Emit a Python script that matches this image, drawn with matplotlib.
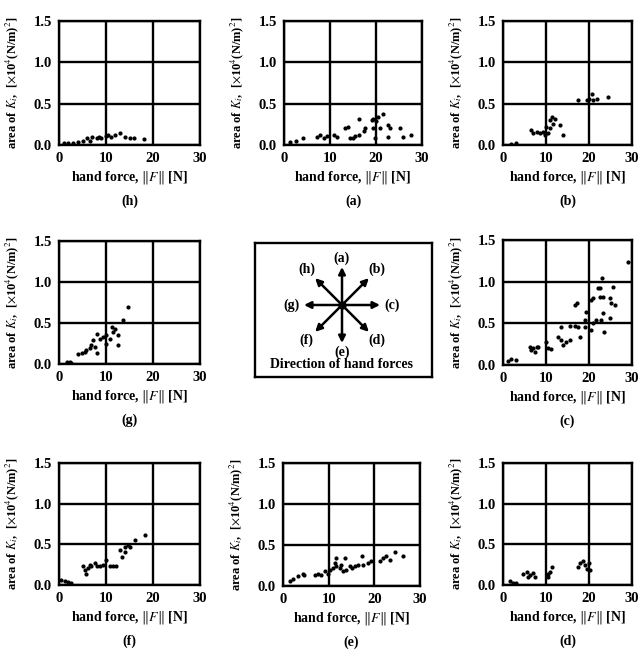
import numpy as np
import matplotlib
matplotlib.use("Agg")
import matplotlib.pyplot as plt

plt.rcParams['font.family'] = 'serif'
plt.rcParams['font.serif'] = ['Liberation Serif', 'DejaVu Serif']
plt.rcParams['mathtext.fontset'] = 'stix'

# ---- data (hand force [N], area of K_i [x10^4 (N/m)^2])
h_x = [1, 2, 3, 4, 5, 6, 6.5, 7, 8, 8.5, 9, 10, 10.5, 11, 12, 13, 14, 15, 16, 18]
h_y = [0.02, 0.02, 0.03, 0.04, 0.05, 0.08, 0.05, 0.10, 0.08, 0.10, 0.09, 0.11,
       0.12, 0.10, 0.12, 0.14, 0.10, 0.08, 0.08, 0.07]

a_x = [1.4, 2.5, 4.2, 7.2, 7.9, 8.6, 9.4, 10.8, 11.5, 13.3, 14.0, 14.4, 15.1, 15.5,
       16.2, 17.3, 17.6, 16.2, 19.1, 19.4, 20.1, 20.5, 20.9, 21.6, 19.4, 22.7, 23.0,
       22.7, 25.2, 25.9, 27.7, 19.8]
a_y = [0.04, 0.05, 0.08, 0.10, 0.12, 0.09, 0.11, 0.12, 0.10, 0.20, 0.22, 0.09, 0.08,
       0.11, 0.12, 0.17, 0.20, 0.32, 0.30, 0.32, 0.29, 0.34, 0.20, 0.38, 0.20, 0.24,
       0.20, 0.10, 0.20, 0.10, 0.12, 0.08]

b_x = [1.9, 3.1, 6.6, 7.0, 7.8, 8.6, 9.4, 9.7, 10.1, 10.9, 11.3, 11.7, 12.1, 13.2,
       14.0, 10.9, 10.5, 17.5, 19.9, 20.6, 21.0, 21.8, 24.5, 19.5]
b_y = [0.01, 0.03, 0.18, 0.14, 0.16, 0.14, 0.16, 0.12, 0.22, 0.30, 0.34, 0.26, 0.32,
       0.24, 0.12, 0.20, 0.14, 0.54, 0.56, 0.62, 0.54, 0.56, 0.58, 0.54]

g_x = [1.6, 2.3, 2.6, 4.1, 4.8, 5.5, 5.8, 6.5, 6.9, 7.6, 8.0, 7.3, 8.0, 8.7, 9.4,
       10.1, 10.1, 10.8, 11.2, 11.9, 12.6, 12.6, 13.6, 14.7, 11.5]
g_y = [0.02, 0.03, 0.01, 0.12, 0.14, 0.15, 0.17, 0.19, 0.23, 0.21, 0.13, 0.29, 0.37,
       0.31, 0.33, 0.35, 0.25, 0.31, 0.45, 0.43, 0.35, 0.23, 0.54, 0.69, 0.39]

c_x = [1.2, 1.9, 3.1, 6.2, 7.0, 7.8, 6.6, 7.4, 8.1, 10.5, 11.2, 10.1, 12.8, 13.6,
       14.0, 14.7, 15.5, 17.8, 13.6, 15.5, 16.7, 17.4, 19.0, 19.0, 19.4, 16.7, 17.1,
       20.5, 20.9, 20.5, 20.9, 21.7, 22.1, 23.0, 22.5, 23.3, 24.8, 25.6, 25.2, 23.3,
       24.8, 22.9, 23.6, 26.0, 22.5, 29.1]
c_y = [0.05, 0.07, 0.06, 0.22, 0.20, 0.21, 0.18, 0.16, 0.22, 0.20, 0.19, 0.28, 0.34,
       0.30, 0.24, 0.28, 0.30, 0.34, 0.46, 0.47, 0.47, 0.46, 0.46, 0.54, 0.64, 0.72,
       0.74, 0.78, 0.80, 0.42, 0.50, 0.54, 0.92, 1.04, 0.82, 0.82, 0.80, 0.94, 0.74,
       0.62, 0.56, 0.54, 0.40, 0.72, 0.92, 1.24]

f_x = [0.5, 1.2, 1.9, 2.6, 5.1, 5.5, 5.8, 6.2, 6.5, 6.9, 7.6, 8.0, 8.7, 9.4, 10.1,
       10.8, 11.5, 12.2, 12.9, 13.3, 14.0, 14.7, 15.1, 16.1, 18.3, 14.0]
f_y = [0.06, 0.05, 0.04, 0.02, 0.23, 0.18, 0.14, 0.21, 0.25, 0.23, 0.27, 0.23, 0.23,
       0.25, 0.31, 0.23, 0.23, 0.23, 0.43, 0.35, 0.47, 0.49, 0.47, 0.55, 0.62, 0.41]

e_x = [1.5, 2.2, 3.3, 4.4, 4.7, 6.9, 7.7, 8.4, 9.1, 9.9, 10.2, 10.9, 11.3, 11.7,
       12.4, 12.8, 13.5, 13.9, 14.6, 15.0, 15.7, 16.4, 17.2, 17.5, 18.6, 19.3, 21.2,
       21.9, 22.6, 23.4, 24.5, 26.3, 11.7, 13.1]
e_y = [0.055, 0.08, 0.12, 0.15, 0.14, 0.14, 0.15, 0.14, 0.18, 0.15, 0.19, 0.22, 0.28,
       0.24, 0.22, 0.26, 0.34, 0.20, 0.24, 0.22, 0.24, 0.26, 0.36, 0.26, 0.28, 0.30,
       0.30, 0.34, 0.36, 0.32, 0.42, 0.36, 0.34, 0.18]

d_x = [1.6, 2.3, 3.1, 4.7, 5.5, 6.2, 7.0, 7.4, 5.8, 10.5, 10.9, 11.3, 10.5, 17.5,
       17.9, 18.7, 19.1, 19.5, 19.9, 20.3]
d_y = [0.05, 0.03, 0.02, 0.14, 0.16, 0.12, 0.15, 0.10, 0.10, 0.14, 0.16, 0.22, 0.10,
       0.22, 0.27, 0.29, 0.25, 0.20, 0.27, 0.18]

x_ticks = [0, 10, 20, 30]
y_ticks = [0.0, 0.5, 1.0, 1.5]
y_tick_labels = ['0.0', '0.5', '1.0', '1.5']

# direction diagram: label and angle in degrees
dir_labels = ['(a)', '(b)', '(c)', '(d)', '(e)', '(f)', '(g)', '(h)']
dir_angles = [90, 45, 0, -45, -90, -135, 180, 135]

panels = {
    'h': (h_x, h_y), 'a': (a_x, a_y), 'b': (b_x, b_y),
    'g': (g_x, g_y), 'c': (c_x, c_y),
    'f': (f_x, f_y), 'e': (e_x, e_y), 'd': (d_x, d_y),
}

W, H = 641, 661
fig = plt.figure(figsize=(W / 100, H / 100), dpi=100)

# axes boxes in pixels: left, top, right, bottom
boxes = {
    'h': (59, 21, 200, 145), 'a': (284, 21, 422, 145), 'b': (503, 21, 632, 145),
    'g': (59, 241, 200, 364), 'c': (503, 240, 632, 365),
    'f': (59, 463, 200, 585), 'e': (283, 463, 420, 586), 'd': (503, 463, 632, 585),
}

def px_axes(l, t, r, b):
    return fig.add_axes([l / W, 1 - b / H, (r - l) / W, (b - t) / H])

for key, (xs, ys) in panels.items():
    l, t, r, b = boxes[key]
    ax = px_axes(l, t, r, b)
    ax.set_xlim(0, 30)
    ax.set_ylim(0, 1.5)
    ax.set_xticks(x_ticks)
    ax.set_yticks(y_ticks)
    ax.set_yticklabels(y_tick_labels)
    ax.tick_params(length=0, pad=5, labelsize=10.5)
    for lab in ax.get_xticklabels() + ax.get_yticklabels():
        lab.set_fontweight('bold')
    ax.grid(True, color='black', linewidth=1.7)
    ax.set_axisbelow(True)
    for sp in ax.spines.values():
        sp.set_linewidth(1.7)
    ax.scatter(xs, ys, s=4, color='black', zorder=3)
    ax.set_xlabel(r'hand force, $\Vert F\Vert$ [N]', fontsize=10,
                  fontweight='bold', labelpad=3)
    ax.set_ylabel(r'area of $\mathbf{\mathit{K}_{\it i}}$,  [$\times$10$^4$(N/m)$^2$]',
                  fontsize=9, fontweight='bold')
    ax.yaxis.set_label_coords(-38 / (r - l), 0.5)
    ax.text(0.5, -56 / (b - t), '(%s)' % key, transform=ax.transAxes,
            ha='center', va='center', fontsize=10, fontweight='bold')

# centre: direction of hand forces
axd = px_axes(255, 243, 432, 377)
axd.set_xlim(-87, 90)
axd.set_ylim(-72, 62)
axd.set_xticks([])
axd.set_yticks([])
for sp in axd.spines.values():
    sp.set_linewidth(1.7)
for lab, ang in zip(dir_labels, dir_angles):
    th = np.deg2rad(ang)
    axd.annotate('', xy=(38 * np.cos(th), 38 * np.sin(th)), xytext=(0, 0),
                 arrowprops=dict(arrowstyle='-|>', color='black', lw=1.8,
                                 mutation_scale=10, shrinkA=0, shrinkB=0))
    r_lab = 47 if ang in (90, -90) else 50
    axd.text(r_lab * np.cos(th), r_lab * np.sin(th), lab, ha='center', va='center',
             fontsize=10, fontweight='bold')
axd.plot([0], [0], 'o', color='black', markersize=5)
axd.text(0, -60, 'Direction of hand forces', ha='center', va='center', fontsize=10,
         fontweight='bold')

fig.savefig('out.png', dpi=100)
